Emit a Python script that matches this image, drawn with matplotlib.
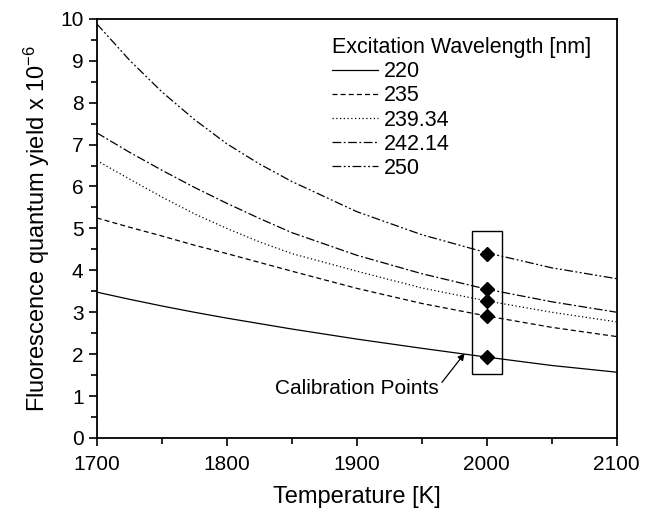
import numpy as np
import matplotlib
matplotlib.use("Agg")
import matplotlib.pyplot as plt
from matplotlib.ticker import MultipleLocator

plt.rcParams['font.family'] = ['Liberation Sans', 'DejaVu Sans']
plt.rcParams['mathtext.fontset'] = 'custom'
plt.rcParams['mathtext.rm'] = 'Liberation Sans'
plt.rcParams['mathtext.default'] = 'regular'

# temperatures [K]
temperature = [1700, 1725, 1750, 1775, 1800, 1825, 1850, 1900, 1950, 2000, 2050, 2100]

# fluorescence quantum yield (x 1e-6) per excitation wavelength
yield_220 = [3.48, 3.31, 3.15, 3.00, 2.86, 2.73, 2.60, 2.36, 2.14, 1.93, 1.73, 1.57]
yield_235 = [5.25, 5.03, 4.82, 4.60, 4.40, 4.19, 3.98, 3.57, 3.21, 2.91, 2.64, 2.42]
yield_239 = [6.62, 6.18, 5.75, 5.35, 5.00, 4.68, 4.40, 3.98, 3.58, 3.27, 3.00, 2.77]
yield_242 = [7.28, 6.82, 6.39, 5.98, 5.60, 5.24, 4.90, 4.36, 3.92, 3.55, 3.25, 3.00]
yield_250 = [9.88, 9.02, 8.26, 7.60, 7.02, 6.54, 6.12, 5.40, 4.85, 4.42, 4.06, 3.80]

labels = ['220', '235', '239.34', '242.14', '250']

# calibration points at 2000 K
calib_T = [2000, 2000, 2000, 2000, 2000]
calib_y = [1.93, 2.91, 3.27, 3.55, 4.40]

fig = plt.figure(figsize=(6.54, 5.09), dpi=100)
ax = fig.add_axes([0.148, 0.1395, 0.795, 0.8235])

series = [yield_220, yield_235, yield_239, yield_242, yield_250]
dashes = [None, (4, 2.5), (1, 2), (7, 2, 1.5, 2), (7, 2, 1.5, 2, 1.5, 2)]
for ys, lab, d in zip(series, labels, dashes):
    line, = ax.plot(temperature, ys, color='black', lw=0.9, label=lab)
    if d is not None:
        line.set_dashes(d)

ax.plot(calib_T, calib_y, linestyle='none', marker='D', color='black', markersize=7)

# box around calibration points
ax.add_patch(plt.Rectangle((1988.5, 1.52), 23.5, 3.43, fill=False,
                           edgecolor='black', lw=1.0))
ax.annotate('Calibration Points', xy=(1983, 2.02), xytext=(1900, 1.19),
            ha='center', va='center', fontsize=15,
            arrowprops=dict(arrowstyle='-|>', color='black', lw=0.9,
                            shrinkA=0, shrinkB=0, mutation_scale=10,
                            relpos=(1.02, 0.8)))

ax.set_xlim(1700, 2100)
ax.set_ylim(0, 10)
ax.xaxis.set_major_locator(MultipleLocator(100))
ax.xaxis.set_minor_locator(MultipleLocator(50))
ax.yaxis.set_major_locator(MultipleLocator(1))
ax.yaxis.set_minor_locator(MultipleLocator(0.5))
ax.tick_params(which='both', direction='out', labelsize=15, width=1.2,
               top=False, right=False)
ax.tick_params(axis='x', which='major', pad=6)
ax.tick_params(which='major', length=6)
ax.tick_params(which='minor', length=4)
for sp in ax.spines.values():
    sp.set_linewidth(1.3)

ax.set_xlabel('Temperature [K]', fontsize=17, labelpad=9)
ax.set_ylabel('Fluorescence quantum yield x 10$^{-6}$', fontsize=17, labelpad=6)

leg = ax.legend(title='Excitation Wavelength [nm]', loc='upper left',
                bbox_to_anchor=(0.452, 0.957), frameon=False, fontsize=15.5,
                title_fontsize=15.5, handlelength=2.15, handletextpad=0.25,
                labelspacing=0.15, borderpad=0, borderaxespad=0)
leg._legend_box.align = 'left'

fig.savefig('out.png', dpi=100)
